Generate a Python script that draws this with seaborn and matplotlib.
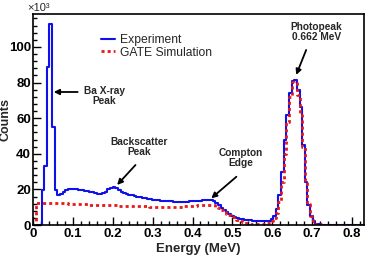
import numpy as np
import pandas as pd
import matplotlib
matplotlib.use('Agg')
import matplotlib.pyplot as plt
import seaborn as sns
from matplotlib.ticker import MultipleLocator, FuncFormatter

# histogram binning (MeV)
bin_start = 0.0017
bin_width = 0.0066

# counts per bin, in units of 10^3
experiment = [
    0, 0, 0, 19.5, 33, 89, 113, 55, 19.5, 17,
    17.5, 18.5, 19.5, 20.2, 20.4, 20.2, 20.0, 19.8, 19.5, 19.2,
    19.0, 18.7, 18.4, 18.0, 17.6, 17.5, 17.8, 18.8, 20.0, 21.0,
    21.3, 20.5, 19.5, 18.6, 18.0, 17.5, 17.0, 16.6, 16.2, 15.9,
    15.6, 15.3, 15.0, 14.7, 14.4, 14.2, 14.0, 13.8, 13.6, 13.5,
    13.4, 13.3, 13.2, 13.1, 13.0, 13.0, 13.0, 13.0, 13.1, 13.2,
    13.3, 13.4, 13.5, 13.6, 13.8, 13.9, 14.1, 14.2, 13.6, 12.5,
    11.2, 9.8, 8.4, 7.2, 6.1, 5.2, 4.5, 3.9, 3.5, 3.2,
    3.0, 2.8, 2.6, 2.5, 2.3, 2.1, 2.0, 2.0, 2.1, 2.5,
    3.2, 5, 9, 17, 30, 48, 62, 74, 81, 81.5,
    76, 66, 45, 24, 11, 5, 2, 0.8, 0.4, 0.2,
    0, 0, 0, 0, 0, 0, 0, 0, 0, 0, 0, 0, 0, 0, 0, 0,
]
simulation = [
    0, 12.6, 12.6, 12.5, 12.5, 12.4, 12.4, 12.3, 12.3, 12.2,
    12.2, 12.1, 12.1, 12.0, 12.0, 11.9, 11.8, 11.8, 11.7, 11.6,
    11.6, 11.5, 11.5, 11.4, 11.3, 11.3, 11.2, 11.2, 11.1, 11.1,
    11.0, 11.0, 10.9, 10.9, 10.8, 10.8, 10.7, 10.7, 10.6, 10.6,
    10.5, 10.5, 10.4, 10.4, 10.3, 10.3, 10.3, 10.2, 10.2, 10.2,
    10.1, 10.1, 10.1, 10.1, 10.2, 10.2, 10.3, 10.4, 10.5, 10.6,
    10.8, 10.9, 11.1, 11.2, 11.4, 11.5, 11.5, 11.4, 11.0, 10.3,
    9.4, 8.4, 7.4, 6.4, 5.4, 4.5, 3.6, 2.8, 2.1, 1.6,
    1.2, 0.9, 0.7, 0.6, 0.6, 0.6, 0.6, 0.7, 0.9, 1.3,
    2.2, 3.8, 7, 13, 24, 40, 58, 72, 80.5, 80,
    73, 62, 44, 25, 12, 5, 2, 0.8, 0.3, 0.1,
    0, 0, 0, 0, 0, 0, 0, 0, 0, 0, 0, 0, 0, 0, 0, 0,
]

x_ticks = [0, 0.1, 0.2, 0.3, 0.4, 0.5, 0.6, 0.7, 0.8]
y_ticks = [0, 20, 40, 60, 80, 100]


def step_frame(values):
    edges = bin_start + bin_width * np.arange(len(values) + 1)
    return pd.DataFrame({'energy': edges, 'counts': list(values) + [values[-1]]})


sns.set_style('ticks')
plt.rcParams['font.family'] = ['Liberation Sans', 'DejaVu Sans']

fig = plt.figure(figsize=(3.68, 2.58), dpi=100)
ax = fig.add_axes([33 / 368, 1 - 225 / 258, 331 / 368, 211 / 258])

sns.lineplot(data=step_frame(experiment), x='energy', y='counts', ax=ax,
             drawstyle='steps-post', color='#1010e8', lw=1.5,
             estimator=None, sort=False, label='Experiment')
sns.lineplot(data=step_frame(simulation), x='energy', y='counts', ax=ax,
             drawstyle='steps-post', color='#e81818', lw=2.0,
             linestyle=(0, (1.1, 1.1)), estimator=None, sort=False,
             label='GATE Simulation')

ax.set_xlim(0, 0.83)
ax.set_ylim(0, 118.5)
ax.set_xticks(x_ticks)
ax.set_yticks(y_ticks)
ax.xaxis.set_minor_locator(MultipleLocator(0.02))
ax.yaxis.set_minor_locator(MultipleLocator(4))
fmt = FuncFormatter(lambda v, p: f'{v:g}')
ax.xaxis.set_major_formatter(fmt)
ax.yaxis.set_major_formatter(fmt)
ax.tick_params(which='both', direction='in', colors='black', width=1.0)
ax.tick_params(which='major', length=6, labelsize=9.5, pad=2)
ax.tick_params(axis='y', which='major', pad=1.5)
ax.tick_params(which='minor', length=3)
for lab in ax.get_xticklabels() + ax.get_yticklabels():
    lab.set_fontweight('bold')
for sp in ax.spines.values():
    sp.set_visible(True)
    sp.set_linewidth(1.2)
    sp.set_color('black')

ax.set_xlabel('Energy (MeV)', fontsize=9.5, fontweight='bold', labelpad=2)
ax.set_ylabel('Counts', fontsize=9, fontweight='bold')
ax.yaxis.set_label_coords(-0.065, 0.5)
ax.text(-0.018, 1.005, '×10³', transform=ax.transAxes, fontsize=8,
        ha='left', va='bottom')

ax.legend(loc='upper left', bbox_to_anchor=(0.205, 0.905), frameon=False,
          fontsize=8.7, handlelength=1.2, handletextpad=0.4,
          labelspacing=0.05, borderpad=0, borderaxespad=0)

arrow = dict(arrowstyle='-|>', color='black', lw=1.3, mutation_scale=8,
             shrinkA=0, shrinkB=0)
notes = [
    ('Ba X-ray\nPeak', (0.179, 72.5), (0.112, 74.7), (0.052, 74.7)),
    ('Backscatter\nPeak', (0.267, 43.8), (0.257, 33.7), (0.211, 22.5)),
    ('Compton\nEdge', (0.52, 37.6), (0.51, 27.1), (0.447, 15.0)),
    ('Photopeak\n0.662 MeV', (0.71, 108.4), (0.685, 98.3), (0.66, 84.3)),
]
for text, pos, tail, tip in notes:
    ax.text(pos[0], pos[1], text, ha='center', va='center', fontsize=7.3,
            fontweight='bold', linespacing=1.05)
    ax.annotate('', xy=tip, xytext=tail, arrowprops=arrow)

fig.savefig('out.png', dpi=100)
